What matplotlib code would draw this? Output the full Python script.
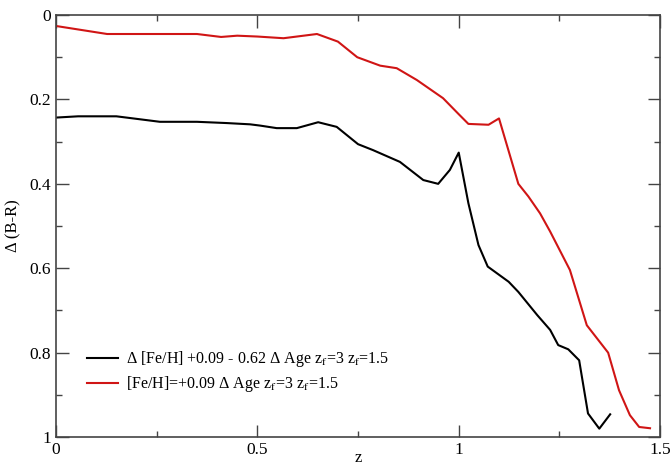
import numpy as np
import matplotlib
matplotlib.use("Agg")
import matplotlib.pyplot as plt
from matplotlib.ticker import MultipleLocator, FuncFormatter

plt.rcParams['font.family'] = ['Liberation Serif', 'DejaVu Serif']
plt.rcParams['mathtext.fontset'] = 'stix'

# curva negra: Delta [Fe/H] +0.09 - 0.62 Delta Age
z_negra = [0.0, 0.055, 0.15, 0.20, 0.258, 0.35, 0.424, 0.482, 0.507, 0.548, 0.598,
           0.651, 0.697, 0.75, 0.787, 0.854, 0.912, 0.949, 0.978, 1.0, 1.024,
           1.049, 1.072, 1.124, 1.148, 1.195, 1.227, 1.247, 1.272, 1.299, 1.321,
           1.349, 1.376]
d_negra = [0.243, 0.240, 0.240, 0.246, 0.253, 0.253, 0.256, 0.259, 0.262, 0.268, 0.268,
           0.254, 0.265, 0.306, 0.320, 0.348, 0.391, 0.400, 0.367, 0.326, 0.446,
           0.545, 0.596, 0.632, 0.656, 0.711, 0.746, 0.782, 0.792, 0.818, 0.944,
           0.980, 0.946]

# curva roja: [Fe/H]=+0.09 Delta Age
z_roja = [0.0, 0.127, 0.275, 0.35, 0.41, 0.45, 0.5, 0.565, 0.648, 0.70, 0.748,
          0.805, 0.846, 0.896, 0.961, 1.0, 1.024, 1.074, 1.10, 1.148, 1.173,
          1.202, 1.227, 1.276, 1.318, 1.371, 1.398, 1.425, 1.448, 1.475]
d_roja = [0.026, 0.045, 0.045, 0.045, 0.052, 0.049, 0.051, 0.055, 0.045, 0.063, 0.100,
          0.120, 0.126, 0.154, 0.197, 0.235, 0.258, 0.260, 0.245, 0.400, 0.430,
          0.470, 0.513, 0.604, 0.735, 0.800, 0.889, 0.948, 0.976, 0.979]

etiqueta_negra = 'Δ [Fe/H] +0.09 - 0.62 Δ Age z$_\\mathrm{f}$=3 z$_\\mathrm{f}$=1.5'
etiqueta_roja = '[Fe/H]=+0.09 Δ Age z$_\\mathrm{f}$=3 z$_\\mathrm{f}$=1.5'

fig = plt.figure(figsize=(6.72, 4.69), dpi=100)
ax = fig.add_axes([0.0833, 0.068, 0.899, 0.9])

ax.plot(z_negra, d_negra, color='black', lw=1.5, label=etiqueta_negra)
ax.plot(z_roja, d_roja, color='#d01515', lw=1.5, label=etiqueta_roja)

ax.set_xlim(0, 1.5)
ax.set_ylim(1, 0)
ax.xaxis.set_major_locator(MultipleLocator(0.5))
ax.xaxis.set_minor_locator(MultipleLocator(0.25))
ax.yaxis.set_major_locator(MultipleLocator(0.2))
ax.yaxis.set_minor_locator(MultipleLocator(0.1))
fmt = FuncFormatter(lambda v, p: '%g' % round(v, 2))
ax.xaxis.set_major_formatter(fmt)
ax.yaxis.set_major_formatter(fmt)
ax.tick_params(which='both', direction='in', top=True, right=True,
               color='#444444', labelsize=12.5)
ax.tick_params(which='major', length=9, width=1)
ax.tick_params(which='minor', length=4.5, width=1)
for s in ax.spines.values():
    s.set_color('#444444')
    s.set_linewidth(1.2)

ax.set_xlabel('z', fontsize=12, va='top')
ax.xaxis.set_label_coords(0.5, -0.03)
ax.set_ylabel('Δ (B-R)', fontsize=12, labelpad=6)

ax.legend(loc='upper left', bbox_to_anchor=(0.028, 0.242), frameon=False,
          fontsize=11.5, handlelength=1.9, handletextpad=0.5, labelspacing=0.3)

fig.savefig('out.png', dpi=100)
